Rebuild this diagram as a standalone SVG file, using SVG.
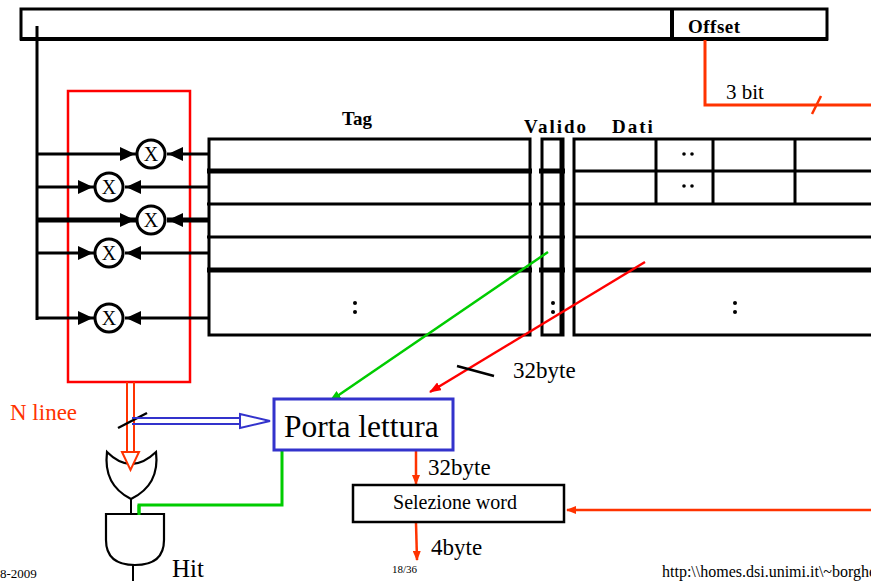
<svg xmlns="http://www.w3.org/2000/svg" width="871" height="581" viewBox="0 0 871 581">
<style>
.blk{stroke:#000;fill:none;stroke-width:3}
.thk{stroke:#000;fill:none;stroke-width:5}
.lbl{font-family:"Liberation Serif",serif;fill:#000}
.bold{font-family:"Liberation Serif",serif;font-weight:bold;fill:#000;font-size:19px}
.xc{stroke:#000;stroke-width:3;fill:#fff}
.xt{font-family:"Liberation Serif",serif;font-size:20px;fill:#000;text-anchor:middle}
.red{stroke:#ff3300;fill:none;stroke-width:3}
</style>
<defs>
<marker id="ah" markerWidth="10" markerHeight="8" refX="9" refY="4" orient="auto" markerUnits="userSpaceOnUse"><path d="M0,0 L10,4 L0,8 z" fill="#ff3300"/></marker>
<marker id="ahr" markerWidth="12" markerHeight="9" refX="11" refY="4.5" orient="auto" markerUnits="userSpaceOnUse"><path d="M0,0 L12,4.5 L0,9 z" fill="#ff0000"/></marker>
<marker id="ahg" markerWidth="12" markerHeight="9" refX="11" refY="4.5" orient="auto" markerUnits="userSpaceOnUse"><path d="M0,0 L12,4.5 L0,9 z" fill="#00cc00"/></marker>
<path id="tr" d="M0,0 L-15,-7 L-15,7 z" fill="#000"/>
</defs>

<g id="address">
<rect x="21" y="9" width="806" height="30" class="blk"/>
<line x1="20" y1="39" x2="828" y2="39" stroke="#000" stroke-width="4"/>
<line x1="672" y1="9" x2="672" y2="39" stroke="#000" stroke-width="4"/>
<text x="688" y="33" class="bold" font-size="21" letter-spacing="0.5">Offset</text>
</g>

<g id="labels">
<text x="342" y="125" class="bold" font-size="18">Tag</text>
<text x="524" y="133" class="bold" letter-spacing="2">Valido</text>
<text x="612" y="133" class="bold" letter-spacing="2">Dati</text>
</g>

<g id="tag-table">
<rect x="209" y="139" width="321" height="196" class="blk"/>
<line x1="207" y1="171" x2="532" y2="171" class="thk"/>
<line x1="207" y1="204" x2="532" y2="204" class="blk"/>
<line x1="207" y1="237" x2="532" y2="237" class="blk"/>
<line x1="207" y1="270" x2="532" y2="270" class="thk"/>
<circle cx="355" cy="303" r="2" fill="#000"/><circle cx="355" cy="312" r="2" fill="#000"/>
</g>

<g id="valid-table">
<rect x="542" y="139" width="21" height="196" class="blk"/>
<line x1="561" y1="139" x2="561" y2="335" class="blk"/>
<line x1="539" y1="171" x2="565" y2="171" class="thk"/>
<line x1="539" y1="204" x2="565" y2="204" class="blk"/>
<line x1="539" y1="237" x2="565" y2="237" class="blk"/>
<line x1="539" y1="270" x2="565" y2="270" class="thk"/>
<circle cx="553" cy="303" r="2" fill="#000"/><circle cx="553" cy="312" r="2" fill="#000"/>
</g>

<g id="data-table">
<path d="M871,139 H574 V335 H871" class="blk"/>
<line x1="574" y1="171" x2="871" y2="171" class="blk"/>
<line x1="574" y1="204" x2="871" y2="204" class="blk"/>
<line x1="574" y1="237" x2="871" y2="237" class="blk"/>
<line x1="574" y1="270" x2="871" y2="270" class="thk"/>
<line x1="656" y1="139" x2="656" y2="204" class="blk"/>
<line x1="713" y1="139" x2="713" y2="204" class="blk"/>
<line x1="795" y1="139" x2="795" y2="204" class="blk"/>
<circle cx="684" cy="154" r="1.8" fill="#000"/><circle cx="692" cy="154" r="1.8" fill="#000"/>
<circle cx="684" cy="186" r="1.8" fill="#000"/><circle cx="692" cy="186" r="1.8" fill="#000"/>
<circle cx="735" cy="303" r="2" fill="#000"/><circle cx="735" cy="312" r="2" fill="#000"/>
</g>

<g id="comparators">
<rect x="68" y="91" width="122" height="291" fill="none" stroke="#ff0000" stroke-width="2.5"/>
</g>

<g id="connectors">
<line x1="37" y1="26" x2="37" y2="320" class="blk"/>
<line x1="36" y1="154" x2="136" y2="154" class="blk"/>
<line x1="167" y1="154" x2="209" y2="154" class="blk"/>
<line x1="36" y1="187" x2="94" y2="187" class="blk"/>
<line x1="125" y1="187" x2="209" y2="187" class="blk"/>
<line x1="36" y1="220" x2="136" y2="220" class="thk"/>
<line x1="167" y1="220" x2="209" y2="220" class="thk"/>
<line x1="36" y1="253" x2="94" y2="253" class="blk"/>
<line x1="125" y1="253" x2="209" y2="253" class="blk"/>
<line x1="36" y1="318" x2="94" y2="318" class="blk"/>
<line x1="125" y1="318" x2="209" y2="318" class="blk"/>
<use href="#tr" x="135" y="154"/><use href="#tr" x="168" y="154" transform="rotate(180 168 154)"/>
<use href="#tr" x="93" y="187"/><use href="#tr" x="126" y="187" transform="rotate(180 126 187)"/>
<use href="#tr" x="135" y="220"/><use href="#tr" x="168" y="220" transform="rotate(180 168 220)"/>
<use href="#tr" x="93" y="253"/><use href="#tr" x="126" y="253" transform="rotate(180 126 253)"/>
<use href="#tr" x="93" y="318"/><use href="#tr" x="126" y="318" transform="rotate(180 126 318)"/>
<path d="M705,40 V105 H871" class="red"/>
<line x1="812" y1="114" x2="821" y2="96" stroke="#ff3300" stroke-width="2.5"/>
<line x1="548" y1="252" x2="330" y2="401" stroke="#00cc00" stroke-width="2.5" marker-end="url(#ahg)"/>
<line x1="645" y1="262" x2="430" y2="392" stroke="#ff0000" stroke-width="2.5" marker-end="url(#ahr)"/>
<line x1="457" y1="366" x2="494" y2="376" stroke="#000" stroke-width="2.5"/>
<path d="M127,382 V452 M134,382 V452" stroke="#ff3300" stroke-width="2" fill="none"/>
<line x1="118" y1="428" x2="147" y2="413" stroke="#000" stroke-width="2.5"/>
<path d="M132,418 H240 M132,424 H240 M240,414 L270,421 L240,428 z" stroke="#3333cc" stroke-width="2" fill="#fff"/>
<path d="M282,450 V505 H139 V514" stroke="#00cc00" stroke-width="3" fill="none"/>
<line x1="416" y1="451" x2="416" y2="484" stroke="#ff3300" stroke-width="2.5" marker-end="url(#ah)"/>
<line x1="871" y1="510" x2="567" y2="510" stroke="#ff3300" stroke-width="2.5" marker-end="url(#ah)"/>
<line x1="416" y1="523" x2="417" y2="560" stroke="#ff3300" stroke-width="2.5" marker-end="url(#ah)"/>
<line x1="131" y1="499" x2="131" y2="514" stroke="#000" stroke-width="2"/>
<line x1="133" y1="565" x2="133" y2="581" stroke="#000" stroke-width="2"/>
</g>

<g id="x1"><circle cx="151" cy="154" r="14" class="xc"/><text x="151" y="161" class="xt">X</text></g>
<g id="x2"><circle cx="109" cy="187" r="14" class="xc"/><text x="109" y="194" class="xt">X</text></g>
<g id="x3"><circle cx="151" cy="220" r="14" class="xc"/><text x="151" y="227" class="xt">X</text></g>
<g id="x4"><circle cx="109" cy="253" r="14" class="xc"/><text x="109" y="260" class="xt">X</text></g>
<g id="x5"><circle cx="109" cy="318" r="14" class="xc"/><text x="109" y="325" class="xt">X</text></g>

<g id="or-gate">
<path d="M107,452 Q131,476 156,452 Q160,485 131,499 Q103,485 107,452 z" stroke="#000" stroke-width="2.2" fill="#fff"/>
</g>
<path d="M127,440 V453 M134,440 V453 M122,452 L130.5,470 L139,452 z" stroke="#ff3300" stroke-width="2" fill="#fff"/>

<g id="and-gate">
<path d="M106,514 H164 V540 Q164,565 135,565 Q106,565 106,540 z" stroke="#000" stroke-width="2.2" fill="#fff"/>
<line x1="139" y1="505" x2="139" y2="515" stroke="#00cc00" stroke-width="3"/>
</g>

<g id="porta-lettura">
<rect x="274" y="399" width="179" height="51" fill="#fff" stroke="#3333cc" stroke-width="3"/>
<text x="284" y="437" class="lbl" font-size="31.5">Porta lettura</text>
</g>

<g id="selezione-word">
<rect x="353" y="485" width="211" height="37" fill="#fff" stroke="#000" stroke-width="2.5"/>
<text x="455" y="509" class="lbl" font-size="20" text-anchor="middle">Selezione word</text>
</g>

<g id="texts">
<text x="726" y="99" class="lbl" font-size="21">3 bit</text>
<text x="513" y="378" class="lbl" font-size="23">32byte</text>
<text x="428" y="475" class="lbl" font-size="23">32byte</text>
<text x="431" y="555" class="lbl" font-size="23">4byte</text>
<text x="10" y="420" font-family="Liberation Serif,serif" font-size="23" fill="#ff3300">N linee</text>
<text x="172" y="577" class="lbl" font-size="25">Hit</text>
<text x="392" y="573" class="lbl" font-size="11">18/36</text>
<text x="0" y="578" class="lbl" font-size="13">8-2009</text>
<text x="662" y="577" class="lbl" font-size="16">http:\\homes.dsi.unimi.it\~borghe</text>
</g>
</svg>
